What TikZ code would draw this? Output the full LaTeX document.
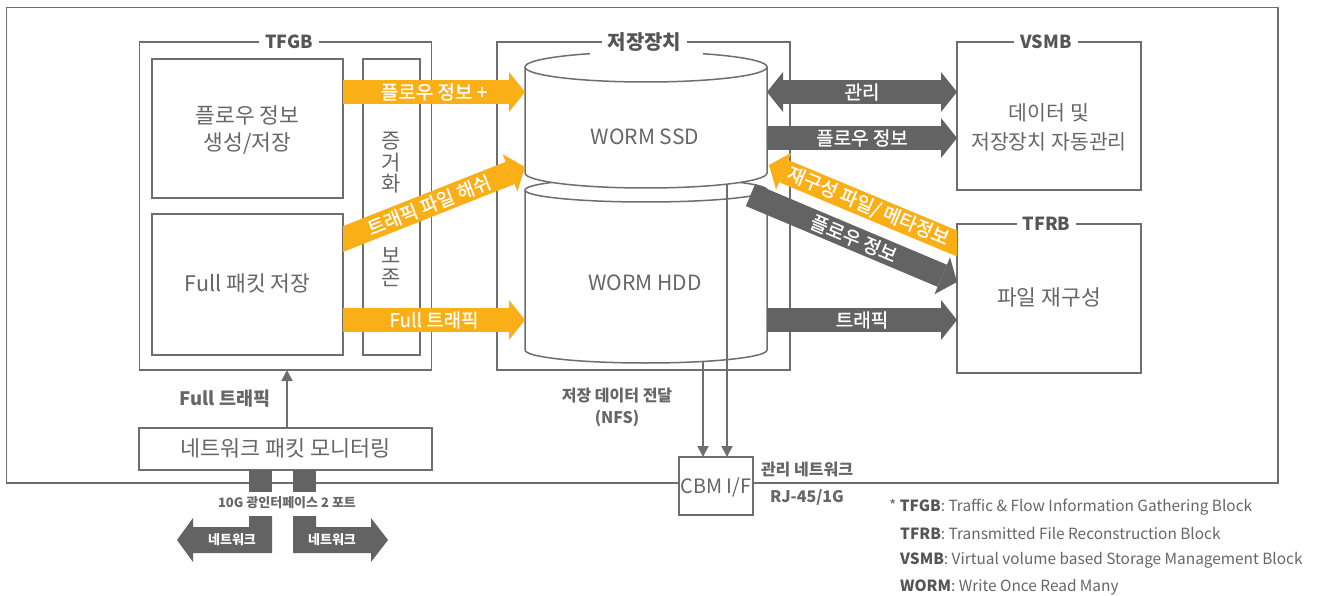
\documentclass[tikz,border=0pt]{standalone}
\usepackage{fontspec}
\setmainfont{Noto Sans CJK KR}
\newfontfamily\medf{Noto Sans CJK KR}[FakeBold=1]
\usetikzlibrary{arrows.meta,calc}
\definecolor{lc}{HTML}{6E6E6E}
\definecolor{tc}{HTML}{666666}
\definecolor{hc}{HTML}{555555}
\definecolor{org}{HTML}{FBAF17}
\definecolor{dg}{HTML}{636363}
\begin{document}
\begin{tikzpicture}[x=1pt,y=-1pt,
  frame/.style={draw=lc, line width=1.5pt},
  box/.style={draw=lc, line width=1.5pt, fill=white, inner sep=0pt, outer sep=0pt, rectangle},
  cyl/.style={draw=lc, line width=1.5pt, fill=white},
  ttl/.style={fill=white, text=hc, font=\fontsize{18pt}{20pt}\selectfont\bfseries, inner xsep=6pt, inner ysep=3pt},
  btxt/.style={text=tc, font=\fontsize{21.5pt}{27pt}\selectfont, align=center, inner sep=0pt},
  fat/.style={line width=24pt, -{Triangle[length=16pt,width=40pt,line width=0pt]}},
  fattwo/.style={line width=24pt, {Triangle[length=16pt,width=40pt,line width=0pt]}-{Triangle[length=16pt,width=40pt,line width=0pt]}},
  atxt/.style={text=white, font=\fontsize{19pt}{21pt}\medf, inner sep=0pt},
  sarrow/.style={draw=lc, line width=2pt, -{Triangle[length=11pt,width=11pt]}},
  lbl/.style={text=tc, font=\fontsize{16pt}{22pt}\selectfont\bfseries, align=center, inner sep=0pt},
  legend/.style={text=tc, font=\fontsize{15.4pt}{20pt}\selectfont, anchor=west, inner sep=0pt},
]
\useasboundingbox (0,0) rectangle (1317,596);

% outer frame
\draw[frame] (6.5,7.5) rectangle (1278,483);

% boxes
\node[box, minimum width=292pt, minimum height=328pt] (tfgb) at (285.5,206) {};
\node[box, minimum width=191pt, minimum height=139pt] (flow) at (247.5,128.5) {};
\node[box, minimum width=191pt, minimum height=141pt] (full) at (247.5,284.5) {};
\node[box, minimum width=57pt, minimum height=296pt] (evid) at (391.5,207) {};
\node[box, minimum width=293pt, minimum height=328pt] (stor) at (643.5,206) {};
\node[box, minimum width=184pt, minimum height=148pt] (vsmb) at (1049,116) {};
\node[box, minimum width=184pt, minimum height=149pt] (tfrb) at (1049,298.5) {};
\node[box, minimum width=293pt, minimum height=42pt] (mon) at (285.5,449) {};

% box texts
\node[btxt] (flowt) at (247.5,130) {플로우 정보\\생성/저장};
\node[btxt] (fullt) at (247.5,283) {Full 패킷 저장};
\node[btxt, font=\fontsize{21pt}{21.5pt}\selectfont] (evida) at (391.5,163) {증\\거\\화};
\node[btxt, font=\fontsize{21pt}{21.5pt}\selectfont] (evidb) at (391.5,267) {보\\존};
\node[btxt, font=\fontsize{20.5pt}{29pt}\selectfont] (vsmbt) at (1049,127.5) {데이터 및\\저장장치 자동관리};
\node[btxt] (tfrbt) at (1049,297) {파일 재구성};
\node[btxt, font=\fontsize{21.8pt}{24pt}\selectfont] (mont) at (285.5,448) {네트워크 패킷 모니터링};

% cylinder
\path[cyl] (525,190) -- (525,350) arc[start angle=180,end angle=360,x radius=121pt,y radius=13pt]
  -- (767,190) arc[start angle=0,end angle=180,x radius=121pt,y radius=12pt] -- cycle;
\draw[draw=lc, line width=1.5pt] (525,190) arc[start angle=180,end angle=360,x radius=121pt,y radius=12pt];
\path[cyl] (525,67) -- (525,173) arc[start angle=180,end angle=360,x radius=121pt,y radius=15pt]
  -- (767,67) arc[start angle=0,end angle=180,x radius=121pt,y radius=15pt] -- cycle;
\draw[draw=lc, line width=1.5pt] (525,67) arc[start angle=180,end angle=360,x radius=121pt,y radius=15pt];
\node[btxt, font=\fontsize{21pt}{24pt}\selectfont] (ssdt) at (645,137) {WORM SSD};
\node[btxt, font=\fontsize{21pt}{24pt}\selectfont] (hddt) at (645,283) {WORM HDD};

% reference coordinates
\coordinate (ssdW) at (525,67);
\coordinate (ssdE) at (767,67);
\coordinate (y92) at (0,92);
\coordinate (y138) at (0,138);
\coordinate (y320) at (0,320);
\coordinate (y282) at (0,282);

% titles
\fill[white] (590,46) rectangle (703,57);
\node[ttl] (tfgbT) at (289,42) {TFGB};
\node[ttl, font=\fontsize{20pt}{22pt}\selectfont\bfseries] (storT) at (644.5,42) {저장장치};
\node[ttl] (vsmbT) at (1046,42) {VSMB};
\node[ttl] (tfrbT) at (1046.5,224) {TFRB};

% orange arrows
\draw[fat, draw=org] (flow.east |- y92) -- (ssdW |- y92) node[midway, atxt] (a1t) {플로우 정보 +};
\draw[fat, draw=org] (full.east |- y320) -- (ssdW |- y320) node[midway, atxt] (a2t) {Full 트래픽};
\coordinate (hs) at (333,243);
\coordinate (ht) at (525,167);
\begin{scope}
  \clip (343,100) rectangle (600,300);
  \draw[fat, draw=org] (hs) -- (ht) node[pos=0.5, sloped, atxt] (a3t) {트래픽 파일 해쉬};
\end{scope}
\coordinate (rs) at (967,247.7);
\coordinate (rt) at (769,165);
\begin{scope}
  \clip (600,100) rectangle (957,300);
  \draw[fat, draw=org] (rs) -- (rt) node[pos=0.5, sloped, atxt] (a4t) {재구성 파일/ 메타정보};
\end{scope}

% gray arrows
\draw[fattwo, draw=dg] (ssdE |- y92) -- (vsmb.west |- y92) node[midway, atxt] (g1t) {관리};
\draw[fat, draw=dg] (ssdE |- y138) -- (vsmb.west |- y138) node[midway, atxt] (g2t) {플로우 정보};
\coordinate (fds) at (750.5,195);
\draw[fat, draw=dg] (fds) -- (tfrb.west |- y282) node[midway, sloped, atxt] (g3t) {플로우 정보};
\draw[fat, draw=dg] (ssdE |- y320) -- (tfrb.west |- y320) node[midway, atxt] (g4t) {트래픽};

% CBM
\node[box, minimum width=74pt, minimum height=58pt] (cbm) at (716,486) {};
\node[btxt, font=\fontsize{19.8pt}{22pt}\selectfont] (cbmt) at (716,487) {CBM I/F};
\coordinate (n1) at (703,361.5);
\coordinate (n2) at (727,184);
\draw[sarrow] (n1) -- (cbm.north -| n1);
\draw[sarrow] (n2) -- (cbm.north -| n2);
\node[lbl] (nfs) at (617,407) {저장 데이터 전달\\(NFS)};
\node[lbl] (mgmt) at (807,470) {관리 네트워크};
\node[lbl] (rj) at (807,497) {RJ-45/1G};

% monitor to TFGB
\coordinate (upx) at (287,0);
\draw[sarrow] (mon.north -| upx) -- (tfgb.south -| upx);
\node[lbl, font=\fontsize{18.5pt}{20pt}\selectfont\bfseries] (fullT) at (225,399) {Full 트래픽};

% ports
\fill[dg] (249,470) rectangle (272,492);
\fill[dg] (293,470) rectangle (316,492);
\node[lbl, font=\fontsize{13pt}{15pt}\selectfont\bfseries] (port) at (287,503) {10G 광인터페이스 2 포트};
\fill[dg] (272,516) -- (272,553) -- (193,553) -- (193,562) -- (177,540) -- (193,518) -- (193,527) -- (249,527) -- (249,516) -- cycle;
\fill[dg] (293,516) -- (316,516) -- (316,527) -- (371,527) -- (371,518) -- (388,540) -- (371,562) -- (371,553) -- (293,553) -- cycle;
\node[atxt, font=\fontsize{13pt}{14pt}\selectfont\bfseries] (netL) at (232,540) {네트워크};
\node[atxt, font=\fontsize{13pt}{14pt}\selectfont\bfseries] (netR) at (332,540) {네트워크};

% legend
\node[legend] (lg1) at (889,507) {* {\color{hc}\bfseries TFGB}: Traffic \& Flow Information Gathering Block};
\node[legend] (lg2) at (900,533) {{\color{hc}\bfseries TFRB}: Transmitted File Reconstruction Block};
\node[legend] (lg3) at (900,560) {{\color{hc}\bfseries VSMB}: Virtual volume based Storage Management Block};
\node[legend] (lg4) at (900,587) {{\color{hc}\bfseries WORM}: Write Once Read Many};
\end{tikzpicture}
\end{document}
